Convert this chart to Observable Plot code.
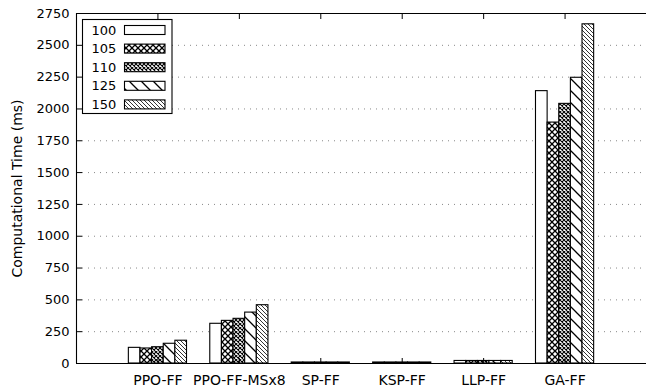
<!DOCTYPE html>
<html><head><meta charset="utf-8">
<script src="https://cdn.jsdelivr.net/npm/d3@7"></script>
<script src="https://cdn.jsdelivr.net/npm/@observablehq/plot@0.6"></script>
<style>
html,body{margin:0;padding:0;background:#fff;}
#chart svg{display:block;}
</style></head><body><div id="chart"></div>
<script>
const categories = ["PPO-FF", "PPO-FF-MSx8", "SP-FF", "KSP-FF", "LLP-FF", "GA-FF"];
const seriesNames = ["100", "105", "110", "125", "150"];
const values100 = [123, 312, 8, 8, 20, 2140];
const values105 = [118, 335, 8, 8, 20, 1893];
const values110 = [128, 351, 8, 8, 20, 2040];
const values125 = [155, 400, 8, 8, 20, 2245];
const values150 = [179, 458, 8, 8, 20, 2665];
const yTicks = [0, 250, 500, 750, 1000, 1250, 1500, 1750, 2000, 2250, 2500, 2750];
const yLabel = "Computational Time (ms)";

const seriesValues = [values100, values105, values110, values125, values150];
const rows = seriesNames.flatMap((s, si) =>
  categories.map((c, ci) => ({category: c, ci, series: s, si, value: seriesValues[si][ci]})));
const xTicks = categories.map((c, i) => i + 1);
const nSlots = seriesNames.length + 2; // gnuplot clustered histogram, gap 2
const barW = 1 / nSlots;
const FONT = "DejaVu Sans";

const barMarks = seriesNames.map((s, si) =>
  Plot.rectY(rows.filter(d => d.si === si), {
    x1: d => d.ci + 1 + (d.si - seriesNames.length / 2) * barW,
    x2: d => d.ci + 1 + (d.si - seriesNames.length / 2 + 1) * barW,
    y1: 0, y2: "value",
    fill: `url(#pat${si})`, stroke: "black", strokeWidth: 1.1
  }));

const chart = Plot.plot({
  width: 646, height: 390,
  marginLeft: 76, marginRight: 0, marginTop: 13, marginBottom: 27,
  style: {fontFamily: FONT, fontSize: "13px", background: "#fff"},
  x: {domain: [0, 7], axis: null},
  y: {domain: [0, 2750], axis: null},
  marks: [
    Plot.gridY(yTicks, {stroke: "#888", strokeOpacity: 1, strokeDasharray: "1,5", strokeWidth: 1}),
    ...barMarks,
    Plot.ruleY([0, 2750], {stroke: "black", strokeWidth: 1.1}),
    Plot.ruleX([0], {stroke: "black", strokeWidth: 1.1}),
    Plot.axisY({ticks: yTicks, tickFormat: d => String(d), tickSize: 0, tickPadding: 7, label: null, fill: "black", fontSize: 13}),
    Plot.axisY({ticks: yTicks, tickSize: -6, text: null, label: null, stroke: "black"}),
    Plot.axisX({ticks: xTicks, tickFormat: i => categories[i - 1], tickSize: 0, tickPadding: 12, label: null, fill: "black", fontSize: 14}),
    Plot.axisX({ticks: xTicks, tickSize: -5, text: null, label: null, stroke: "black"}),
    Plot.axisX({anchor: "top", ticks: xTicks, tickSize: -5, text: null, label: null, stroke: "black"}),
    Plot.text([yLabel], {text: d => d, frameAnchor: "left", textAnchor: "middle", dx: -59, rotate: -90, fill: "black", fontSize: 14})
  ]
});

const svg = d3.select(chart);
const defs = svg.insert("defs", ":first-child");
const patternSpecs = [
  {size: 8, path: null, sw: 0},
  {size: 6, path: "M0,0L6,6M6,0L0,6", sw: 1.3},
  {size: 4, path: "M0,0L4,4M4,0L0,4", sw: 1.1},
  {size: 12, path: "M0,0L12,12M-3,9L3,15M9,-3L15,3", sw: 1.3},
  {size: 4, path: "M0,0L4,4M-1,3L1,5M3,-1L5,1", sw: 0.8}
];
patternSpecs.forEach((p, i) => {
  const pat = defs.append("pattern").attr("id", `pat${i}`).attr("patternUnits", "userSpaceOnUse")
    .attr("width", p.size).attr("height", p.size);
  pat.append("rect").attr("width", p.size).attr("height", p.size).attr("fill", "#fff");
  if (p.path) pat.append("path").attr("d", p.path).attr("stroke", "#000").attr("stroke-width", p.sw).attr("fill", "none");
});

// legend (inside plot, top-left)
const lg = svg.append("g").attr("font-family", FONT).attr("font-size", 13).attr("text-anchor", "start");
lg.append("rect").attr("x", 82.5).attr("y", 19.5).attr("width", 89.5).attr("height", 94)
  .attr("fill", "#fff").attr("stroke", "#000").attr("stroke-width", 1.1);
seriesNames.forEach((s, i) => {
  const cy = 30 + i * 18.6;
  lg.append("text").attr("x", 91.5).attr("y", cy).attr("dy", "0.36em").attr("fill", "#000")
    .attr("text-anchor", "start").text(s);
  lg.append("rect").attr("x", 124.5).attr("y", cy - 4.5).attr("width", 40.5).attr("height", 9)
    .attr("fill", `url(#pat${i})`).attr("stroke", "#000").attr("stroke-width", 1.1);
});

document.getElementById("chart").appendChild(chart);
</script></body></html>
